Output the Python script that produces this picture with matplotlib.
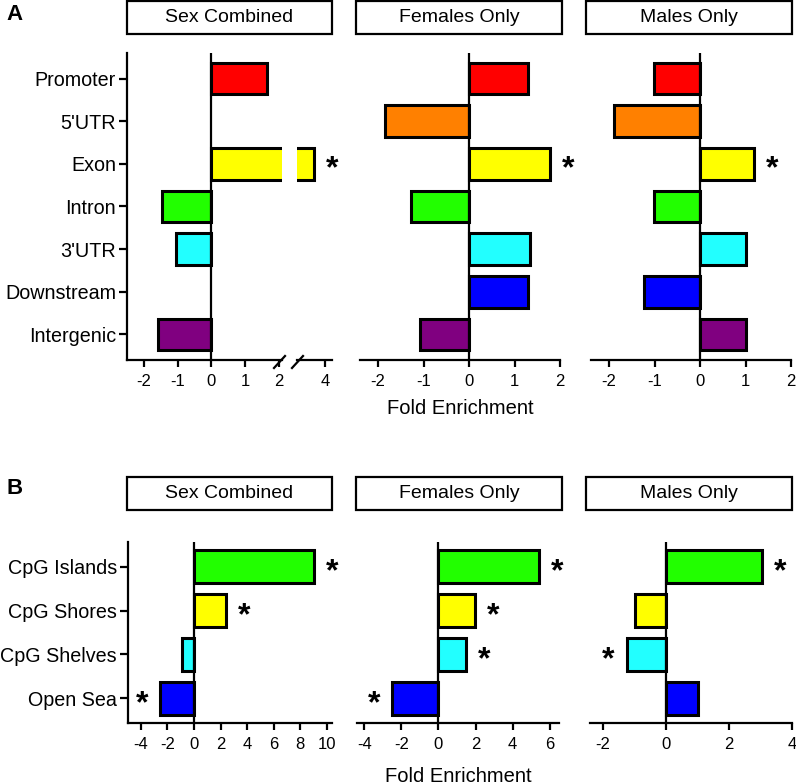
import matplotlib.pyplot as plt
from matplotlib.patches import Rectangle

plt.rcParams['font.family'] = ['Liberation Sans', 'DejaVu Sans']
plt.rcParams['axes.unicode_minus'] = False

# panel A: genomic features (None = no bar drawn)
features = ['Promoter', "5'UTR", 'Exon', 'Intron', "3'UTR", 'Downstream', 'Intergenic']
feat_colors = ['#ff0000', '#ff8000', '#ffff00', '#22ff00', '#22ffff', '#0000ff', '#800080']
a_combined = [1.64, None, 3.67, -1.46, -1.05, None, -1.58]
a_females = [1.29, -1.85, 1.78, -1.27, 1.33, 1.30, -1.08]
a_males = [-1.01, -1.90, 1.18, -1.02, 1.02, -1.24, 1.00]
a_star_combined = [False, False, True, False, False, False, False]
a_star_females = [False, False, True, False, False, False, False]
a_star_males = [False, False, True, False, False, False, False]

# panel B: CpG context
cpg = ['CpG Islands', 'CpG Shores', 'CpG Shelves', 'Open Sea']
cpg_colors = ['#22ff00', '#ffff00', '#22ffff', '#0000ff']
b_combined = [9.07, 2.41, -0.88, -2.56]
b_females = [5.41, 1.96, 1.47, -2.50]
b_males = [3.05, -0.98, -1.24, 1.02]
b_star_combined = [True, True, False, True]
b_star_females = [True, True, True, True]
b_star_males = [True, False, True, False]

titles = ['Sex Combined', 'Females Only', 'Males Only']

W, H = 796, 784
fig = plt.figure(figsize=(W / 100, H / 100), dpi=100)


def px_axes(x0, x1, y0, y1):
    return fig.add_axes([x0 / W, 1 - y1 / H, (x1 - x0) / W, (y1 - y0) / H])


def strip(x0, x1, y0, y1, text):
    fig.patches.append(Rectangle((x0 / W, 1 - y1 / H), (x1 - x0) / W, (y1 - y0) / H,
                                 transform=fig.transFigure, fill=False,
                                 edgecolor='black', lw=1.6))
    fig.text((x0 + x1) / 2 / W, 1 - (y0 + y1) / 2 / H, text, ha='center',
             va='center', fontsize=14)


def style(ax, ylabels=None):
    for s in ['top', 'right']:
        ax.spines[s].set_visible(False)
    ax.spines['bottom'].set_linewidth(1.6)
    ax.spines['left'].set_linewidth(1.6)
    ax.tick_params(axis='x', length=5, width=1.6, labelsize=12, pad=5)
    if ylabels is None:
        ax.spines['left'].set_visible(False)
        ax.set_yticks([])
    else:
        ax.set_yticks(range(len(ylabels)))
        ax.set_yticklabels(ylabels)
        ax.tick_params(axis='y', length=6, width=1.6, labelsize=14.2, pad=2)
    ax.axvline(0, color='black', lw=1.6, zorder=3)


def bars(ax, vals, colors, stars, n):
    idx = [i for i in range(n) if vals[i] is not None]
    ax.barh(idx, [vals[i] for i in idx], height=0.74,
            color=[colors[i] for i in idx], edgecolor='black',
            linewidth=2.2, zorder=2)
    for i in idx:
        if stars[i]:
            v = vals[i]
            off = 13 if v >= 0 else -13
            ax.annotate('*', (v, i), xytext=(off, -4), textcoords='offset points',
                        ha='center', va='center', fontsize=23, fontweight='bold',
                        annotation_clip=False)


# ---------- panel A ----------
ya0, ya1 = 53, 360
nA = len(features)

axL = px_axes(127, 282, ya0, ya1)
bars(axL, a_combined, feat_colors, [False] * nA, nA)
axL.set_ylim(6.6, -0.6)
axL.set_xlim(-2.5, 2.1)
axL.set_xticks([-2, -1, 0, 1, 2])
style(axL, features)

axR = px_axes(297, 332, ya0, ya1)
bars(axR, a_combined, feat_colors, a_star_combined, nA)
axR.set_ylim(6.6, -0.6)
axR.set_xlim(3.16, 4.21)
axR.set_xticks([4])
style(axR)
axR.lines[-1].set_visible(False)

# break marks
d = dict(color='black', lw=1.6, clip_on=False)
fig.add_artist(plt.Line2D([274 / W, 285 / W], [1 - 368 / H, 1 - 356 / H], **d))
fig.add_artist(plt.Line2D([292 / W, 303 / W], [1 - 368 / H, 1 - 356 / H], **d))

axF = px_axes(360, 560, ya0, ya1)
bars(axF, a_females, feat_colors, a_star_females, nA)
axF.set_ylim(6.6, -0.6)
axF.set_xlim(-2.4, 2.0)
axF.set_xticks([-2, -1, 0, 1, 2])
style(axF)

axM = px_axes(591, 791, ya0, ya1)
bars(axM, a_males, feat_colors, a_star_males, nA)
axM.set_ylim(6.6, -0.6)
axM.set_xlim(-2.4, 2.0)
axM.set_xticks([-2, -1, 0, 1, 2])
style(axM)

strip(127, 332, 1, 34, titles[0])
strip(356, 562, 1, 34, titles[1])
strip(586, 792, 1, 34, titles[2])
fig.text(460 / W, 1 - 409 / H, 'Fold Enrichment', ha='center', va='center', fontsize=14.5)
fig.text(15 / W, 1 - 15 / H, 'A', ha='center', va='center', fontsize=16, fontweight='bold')

# ---------- panel B ----------
yb0, yb1 = 542, 723
nB = len(cpg)

bx1 = px_axes(128, 332, yb0, yb1)
bars(bx1, b_combined, cpg_colors, b_star_combined, nB)
bx1.set_ylim(3.56, -0.56)
bx1.set_xlim(-4.97, 10.4)
bx1.set_xticks([-4, -2, 0, 2, 4, 6, 8, 10])
style(bx1, cpg)

bx2 = px_axes(357, 559, yb0, yb1)
bars(bx2, b_females, cpg_colors, b_star_females, nB)
bx2.set_ylim(3.56, -0.56)
bx2.set_xlim(-4.39, 6.5)
bx2.set_xticks([-4, -2, 0, 2, 4, 6])
style(bx2)

bx3 = px_axes(590, 792, yb0, yb1)
bars(bx3, b_males, cpg_colors, b_star_males, nB)
bx3.set_ylim(3.56, -0.56)
bx3.set_xlim(-2.4, 4.0)
bx3.set_xticks([-2, 0, 2, 4])
style(bx3)

strip(127, 332, 477, 510, titles[0])
strip(356, 562, 477, 510, titles[1])
strip(586, 792, 477, 510, titles[2])
fig.text(458 / W, 1 - 776 / H, 'Fold Enrichment', ha='center', va='center', fontsize=14.5)
fig.text(15 / W, 1 - 489 / H, 'B', ha='center', va='center', fontsize=16, fontweight='bold')

fig.savefig('out.png', dpi=100)
